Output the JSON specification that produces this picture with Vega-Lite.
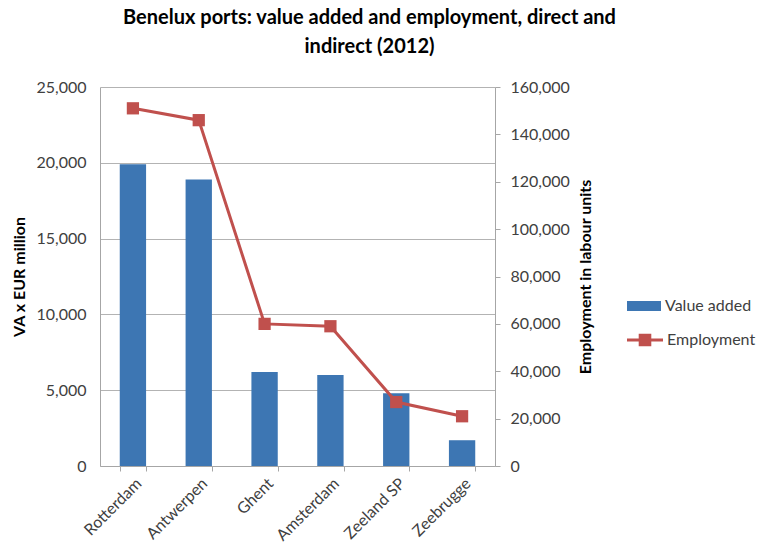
{
  "$schema": "https://vega.github.io/schema/vega-lite/v6.json",
  "width": 395,
  "height": 379,
  "autosize": {"type": "none"},
  "padding": {"left": 100, "top": 87, "right": 268, "bottom": 84},
  "background": "white",
  "config": {
    "font": "Lato",
    "view": {"stroke": null},
    "axis": {"labelFont": "Lato", "titleFont": "Lato", "labelColor": "#404040", "titleColor": "#000000", "labelFontSize": 16, "titleFontSize": 16, "titleFontWeight": "bold", "domainColor": "#a6a6a6", "tickColor": "#a6a6a6", "gridColor": "#b3b3b3"},
    "legend": {"labelFont": "Lato", "labelFontSize": 16, "labelColor": "#404040"}
  },
  "title": {
    "text": ["Benelux ports: value added and employment, direct and", "indirect (2012)"],
    "font": "Lato",
    "fontSize": 20,
    "fontWeight": "bold",
    "color": "#000000",
    "anchor": "middle",
    "frame": "group",
    "dx": 72,
    "offset": 22,
    "lineHeight": 29
  },
  "data": {
    "values": [
      {"port": "Rotterdam", "va": 19900, "emp": 151000},
      {"port": "Antwerpen", "va": 18900, "emp": 146000},
      {"port": "Ghent", "va": 6200, "emp": 60000},
      {"port": "Amsterdam", "va": 6000, "emp": 59000},
      {"port": "Zeeland SP", "va": 4800, "emp": 27000},
      {"port": "Zeebrugge", "va": 1700, "emp": 21000}
    ]
  },
  "encoding": {
    "x": {
      "field": "port",
      "type": "nominal",
      "sort": null,
      "scale": {"paddingInner": 0.6, "paddingOuter": 0.3},
      "axis": {"title": null, "labelAngle": -45, "tickBand": "extent", "tickSize": 5, "labelPadding": 4}
    }
  },
  "layer": [
    {
      "mark": {"type": "bar", "color": "#3D76B3"},
      "encoding": {
        "y": {
          "field": "va",
          "type": "quantitative",
          "scale": {"domain": [0, 25000]},
          "axis": {"title": "VA x EUR million", "values": [0, 5000, 10000, 15000, 20000, 25000], "format": ",.0f", "ticks": false, "labelPadding": 14, "titlePadding": 8, "grid": true}
        },
        "color": {
          "datum": "Value added",
          "scale": {"range": ["#3D76B3"]},
          "legend": {"title": null, "orient": "none", "legendX": 527, "legendY": 202, "symbolType": "M-1,-0.3H1V0.3H-1Z", "symbolSize": 1156, "symbolStrokeWidth": 0, "labelOffset": 4}
        }
      }
    },
    {
      "mark": {"type": "line", "color": "#C0504D", "strokeWidth": 3, "point": {"shape": "square", "size": 150, "filled": true, "color": "#C0504D"}},
      "encoding": {
        "y": {
          "field": "emp",
          "type": "quantitative",
          "scale": {"domain": [0, 160000]},
          "axis": {"title": "Employment in labour units", "orient": "right", "titleAngle": 270, "values": [0, 20000, 40000, 60000, 80000, 100000, 120000, 140000, 160000], "format": ",.0f", "grid": false, "tickSize": 5, "labelPadding": 10, "titlePadding": 24}
        },
        "color": {
          "datum": "Employment",
          "scale": {"range": ["#C0504D"]},
          "legend": {"title": null, "orient": "none", "legendX": 527, "legendY": 235, "symbolType": "M-1,-0.08H1V0.08H-1Z M-0.35,-0.35H0.35V0.35H-0.35Z", "symbolSize": 1296, "symbolStrokeWidth": 0, "symbolFillColor": "#C0504D", "labelOffset": 4,
            "encode": {"symbols": {"update": {"fill": {"value": "#C0504D"}, "stroke": {"value": "#C0504D"}, "strokeWidth": {"value": 0}}}}}
        }
      }
    }
  ],
  "resolve": {"scale": {"y": "independent", "color": "independent"}, "legend": {"color": "independent"}}
}
